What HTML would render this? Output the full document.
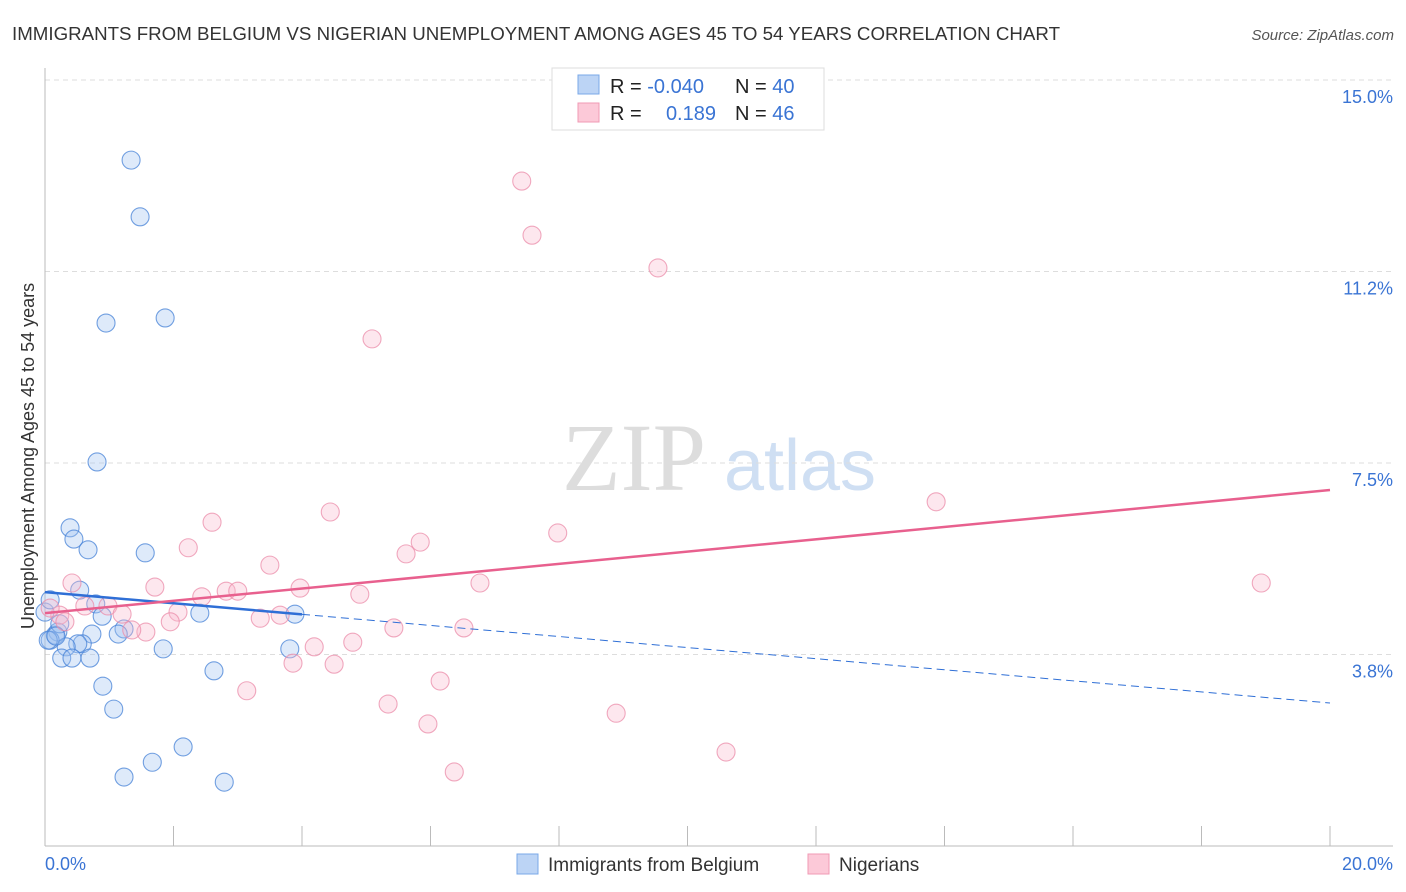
<!DOCTYPE html>
<html><head><meta charset="utf-8"><style>
body{margin:0;background:#fff;font-family:"Liberation Sans",sans-serif}
svg{display:block}
</style></head><body>
<svg id="c" width="1406" height="892">
<text x="12" y="40" font-size="18" fill="#333" textLength="1048" lengthAdjust="spacingAndGlyphs">IMMIGRANTS FROM BELGIUM VS NIGERIAN UNEMPLOYMENT AMONG AGES 45 TO 54 YEARS CORRELATION CHART</text>
<text x="1394" y="40" font-size="15" fill="#555" font-style="italic" text-anchor="end">Source: ZipAtlas.com</text>
<text x="634" y="490" font-size="96" fill="#ddd" font-family="Liberation Serif" text-anchor="middle">ZIP</text>
<text x="800" y="490" font-size="72" fill="#cfdff3" text-anchor="middle">atlas</text>
<text transform="translate(34,456) rotate(-90)" font-size="18" fill="#333" text-anchor="middle">Unemployment Among Ages 45 to 54 years</text>
<g id="grid"></g><g id="marks"></g><g id="trends"></g>
<g>
<rect x="552" y="68" width="272" height="62" fill="#fff" stroke="#ddd"/>
<rect x="578" y="75" width="21" height="19" fill="#bcd4f5" stroke="#7aa8e8"/>
<rect x="578" y="103" width="21" height="19" fill="#fcc9d8" stroke="#f09ab4"/>
<text x="610" y="93" font-size="20" fill="#222">R = <tspan fill="#3a74d4">-0.040</tspan></text>
<text x="735" y="93" font-size="20" fill="#222">N = <tspan fill="#3a74d4">40</tspan></text>
<text x="610" y="120" font-size="20" fill="#222">R = </text>
<text x="716" y="120" font-size="20" fill="#3a74d4" text-anchor="end">0.189</text>
<text x="735" y="120" font-size="20" fill="#222">N = <tspan fill="#3a74d4">46</tspan></text>
</g>
<g>
<rect x="517" y="854" width="21" height="20" fill="#bcd4f5" stroke="#7aa8e8"/>
<text x="548" y="871" font-size="19" fill="#333">Immigrants from Belgium</text>
<rect x="808" y="854" width="21" height="20" fill="#fcc9d8" stroke="#f09ab4"/>
<text x="839" y="871" font-size="19" fill="#333">Nigerians</text>
</g>
</svg>
<script>
const yTicks=[3.75,7.5,11.25,15.0];
const yTickLabels=["3.8%","7.5%","11.2%","15.0%"];
const xTickLabels=["0.0%","20.0%"];
const blueX=[1.34,1.48,0.95,1.87,0.81,0.39,0.45,0.67,1.56,0.54,0.79,0.89,2.41,3.89,1.23,1.14,0.73,0.16,0.20,0.08,0.58,0.51,0.33,1.84,3.81,0.26,0.42,0.70,2.63,0.90,1.07,2.15,1.67,1.23,2.79,0.05,0.23,0.17,0.00,0.08];
const blueY=[13.43,12.32,10.24,10.34,7.52,6.23,6.01,5.80,5.74,5.01,4.74,4.50,4.56,4.54,4.25,4.15,4.15,4.13,4.19,4.03,3.96,3.96,3.90,3.86,3.86,3.68,3.68,3.68,3.43,3.13,2.68,1.94,1.64,1.35,1.25,4.03,4.35,4.11,4.58,4.82];
const pinkX=[7.42,7.58,9.54,5.09,13.87,2.60,4.44,7.98,5.84,2.23,5.62,3.50,18.93,6.77,0.42,1.71,3.97,2.82,3.00,4.90,2.44,0.98,0.62,1.20,2.07,3.66,3.35,1.95,1.57,1.35,5.43,6.52,4.79,4.19,3.86,4.50,6.15,3.14,5.34,8.89,5.96,10.60,6.37,0.23,0.08,0.31];
const pinkY=[13.02,11.96,11.32,9.93,6.74,6.34,6.54,6.13,5.95,5.84,5.72,5.50,5.15,5.15,5.15,5.07,5.05,4.99,4.99,4.93,4.88,4.70,4.70,4.54,4.58,4.52,4.46,4.39,4.19,4.23,4.27,4.27,3.99,3.90,3.58,3.56,3.23,3.04,2.78,2.60,2.39,1.84,1.45,4.52,4.66,4.39];
const blueTrend=[4.97,2.80];
const pinkTrend=[4.56,6.97];
const sx=v=>45+v*64.25, sy=v=>846-v*51.07;
const NS="http://www.w3.org/2000/svg";
function mk(t,a,p){const e=document.createElementNS(NS,t);for(const k in a)e.setAttribute(k,a[k]);p.appendChild(e);return e;}
const g=document.getElementById('grid');
yTicks.forEach((t,i)=>{
 const l=mk('line',{x1:45,x2:1393,y1:sy(t),y2:sy(t),stroke:'#ddd','stroke-dasharray':'5,4'},g);
 
 
 const tx=mk('text',{x:1393,y:sy(t)+23,'font-size':18,fill:'#3a74d4','text-anchor':'end'},g);
 tx.textContent=yTickLabels[i];
 
 
});
mk('line',{x1:45,x2:45,y1:68,y2:846,stroke:'#bbb'},g);
mk('line',{x1:45,x2:1393,y1:846,y2:846,stroke:'#bbb'},g);
for(let i=1;i<=10;i++){const tk=mk('line',{x1:sx(i*2),x2:sx(i*2),y1:826,y2:846,stroke:'#bbb'},g);
 
 }
[[0,'start',45],[20,'end',1393]].forEach((d,i)=>{const t=mk('text',{x:d[2],y:870,'font-size':18,fill:'#3a74d4','text-anchor':d[1]},g);t.textContent=xTickLabels[i];
 
 });
const m=document.getElementById('marks');
blueX.forEach((x,i)=>{const c=mk('circle',{cx:sx(x),cy:sy(blueY[i]),r:9,fill:'rgba(160,195,240,0.35)',stroke:'rgba(70,130,215,0.75)','stroke-width':1.1},m);
 
 });
pinkX.forEach((x,i)=>{const c=mk('circle',{cx:sx(x),cy:sy(pinkY[i]),r:9,fill:'rgba(248,185,205,0.35)',stroke:'rgba(235,140,170,0.75)','stroke-width':1.1},m);
 
 });
const tr=document.getElementById('trends');
const bAt=x=>blueTrend[0]+(blueTrend[1]-blueTrend[0])*x/20;
let l1=mk('line',{x1:sx(0),y1:sy(bAt(0)),x2:sx(4),y2:sy(bAt(4)),stroke:'#2f6fd6','stroke-width':2.5},tr);


let l2=mk('line',{x1:sx(4),y1:sy(bAt(4)),x2:sx(20),y2:sy(bAt(20)),stroke:'#2f6fd6','stroke-width':1,'stroke-dasharray':'8,5'},tr);


let l3=mk('line',{x1:sx(0),y1:sy(pinkTrend[0]),x2:sx(20),y2:sy(pinkTrend[1]),stroke:'#e8608e','stroke-width':2.5},tr);


</script>
</body></html>
